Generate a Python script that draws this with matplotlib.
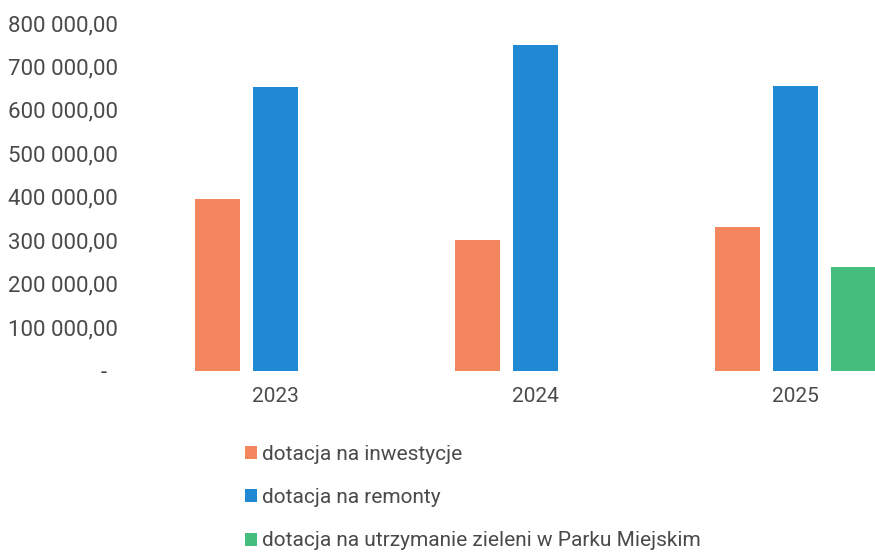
import numpy as np
import matplotlib.pyplot as plt
from matplotlib.patches import Patch
from matplotlib.ticker import FuncFormatter

plt.rcParams['font.family'] = ['Roboto', 'DejaVu Sans']

# Data
years = ['2023', '2024', '2025']
series_names = ['dotacja na inwestycje', 'dotacja na remonty',
                'dotacja na utrzymanie zieleni w Parku Miejskim']
inwestycje = [395000, 300000, 330000]
remonty = [653000, 750000, 656000]
zielen = [0, 0, 238000]
colors = ['#F3865E', '#2089D3', '#45BE7D']
text_color = '#4a4a4a'

values = [inwestycje, remonty, zielen]

fig = plt.figure(figsize=(8.75, 5.53), dpi=100)
ax = fig.add_axes([145 / 875, 0.3298, (875 - 145) / 875, 0.6286])

x = np.arange(len(years))
slot = 58 / 260
width = 45 / 260
for i, (vals, col) in enumerate(zip(values, colors)):
    ax.bar(x + (i - 1) * slot, vals, width=width, color=col)

ax.set_xlim(-0.5, 2.306)
ax.set_ylim(0, 800000)
ax.set_yticks(np.arange(0, 800001, 100000))


def fmt(v, pos):
    if v == 0:
        return '-  '
    return f'{v:,.2f}'.replace(',', ' ').replace('.', ',')


ax.yaxis.set_major_formatter(FuncFormatter(fmt))
ax.set_xticks(x)
ax.set_xticklabels(years)
ax.tick_params(axis='both', length=0, labelsize=15, colors=text_color)
ax.tick_params(axis='y', labelsize=16, pad=19.5)
ax.tick_params(axis='x', pad=12)
for s in ax.spines.values():
    s.set_visible(False)

handles = [Patch(facecolor=c) for c in colors]
fig.legend(handles, series_names, loc='upper left', bbox_to_anchor=(226 / 875, 1 - 426 / 553),
           frameon=False, fontsize=15, labelcolor=text_color, handlelength=0.6,
           handleheight=0.6, handletextpad=0.25, labelspacing=1.17)

fig.savefig('out.png', dpi=100)
